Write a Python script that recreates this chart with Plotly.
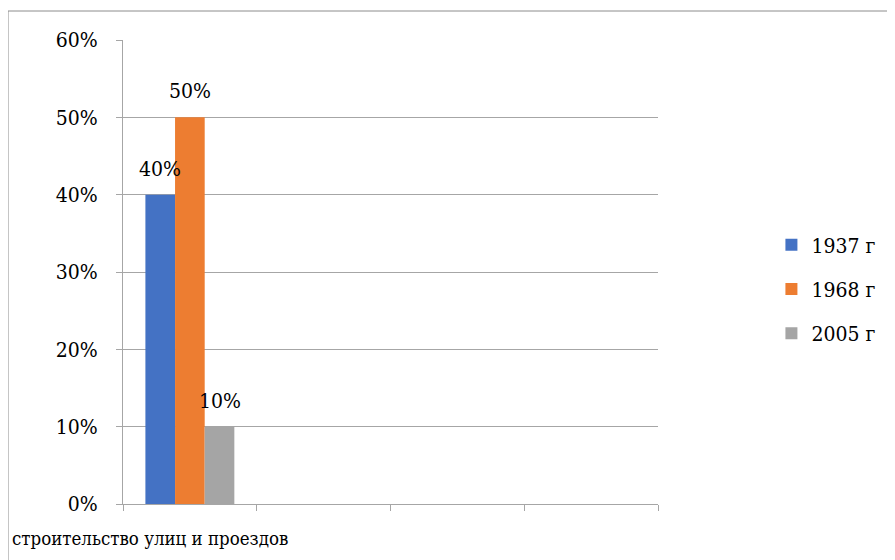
import plotly.graph_objects as go

# ---- data ----
category_label = "строительство улиц и проездов"
n_categories = 4
series_names = ["1937 г", "1968 г", "2005 г"]
series_values = [0.40, 0.50, 0.10]
series_labels = ["40%", "50%", "10%"]
series_colors = ["#4472C4", "#ED7D31", "#A5A5A5"]

W, H = 895, 560
ML, MT = 115, 32
PW, PH = 535, 464
MR = W - ML - PW
MB = H - MT - PH
BARGAP = 0.335
FONT = "DejaVu Serif Condensed, DejaVu Serif"
FS = 21
GRID = "#a6a6a6"

bar_px = PW / n_categories * (1 - BARGAP) / len(series_names)

fig = go.Figure()
for i, (name, val, col) in enumerate(zip(series_names, series_values, series_colors)):
    fig.add_trace(go.Bar(
        x=[0], y=[val], name=name, marker=dict(color=col, line=dict(width=0)),
        legendgroup=name, hoverinfo="skip",
    ))

annotations = []
for i, (val, lab) in enumerate(zip(series_values, series_labels)):
    annotations.append(dict(
        x=0, y=val, xref="x", yref="y", text=lab, showarrow=False,
        xshift=(i - (len(series_names) - 1) / 2) * bar_px, yshift=26,
        font=dict(family=FONT, size=FS, color="black"),
        xanchor="center", yanchor="middle",
    ))
annotations.append(dict(
    x=(2 - ML) / PW, y=(MT + PH - 530) / PH, xref="paper", yref="paper",
    text=category_label, showarrow=False, xanchor="left", yanchor="middle",
    font=dict(family=FONT, size=18.5, color="black"),
))

fig.update_layout(
    width=W, height=H,
    margin=dict(l=ML, r=MR, t=MT, b=MB),
    paper_bgcolor="white", plot_bgcolor="white",
    barmode="group", bargap=BARGAP, bargroupgap=0,
    font=dict(family=FONT, size=FS, color="black"),
    showlegend=True,
    legend=dict(
        x=1.212, y=1 - (281 - MT) / PH, xanchor="left", yanchor="middle",
        font=dict(family=FONT, size=FS, color="black"),
        tracegroupgap=14, itemwidth=30, bgcolor="rgba(0,0,0,0)",
    ),
    annotations=annotations,
    shapes=[dict(
        type="rect", xref="paper", yref="paper",
        x0=(0 - ML) / PW, x1=1.6, y0=-0.3, y1=1 + (MT - 3) / PH,
        line=dict(color="#8c8c8c", width=1), layer="below",
    )],
)
fig.update_xaxes(
    range=[-0.5, n_categories - 0.5],
    tickmode="array", tickvals=[k - 0.5 for k in range(n_categories + 1)],
    ticks="outside", ticklen=6, tickcolor=GRID, showticklabels=False,
    showgrid=False, showline=True, linecolor=GRID, linewidth=1, zeroline=False,
)
fig.update_yaxes(
    range=[0, 0.6], dtick=0.1, tick0=0, tickformat=".0%",
    ticks="outside", ticklen=6, tickcolor=GRID, ticklabelstandoff=14,
    showgrid=True, gridcolor=GRID, gridwidth=1,
    showline=True, linecolor=GRID, linewidth=1, zeroline=False,
    tickfont=dict(family=FONT, size=FS, color="black"),
)

fig.write_html("out.html")
